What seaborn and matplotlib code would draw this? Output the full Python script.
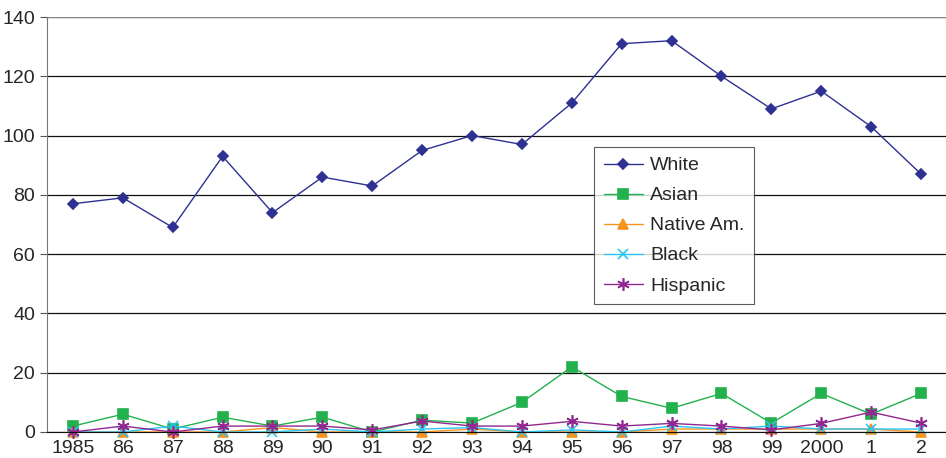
import numpy as np
import pandas as pd
import seaborn as sns
import matplotlib.pyplot as plt

years = ['1985', '86', '87', '88', '89', '90', '91', '92', '93', '94',
         '95', '96', '97', '98', '99', '2000', '1', '2']
white = [77, 79, 69, 93, 74, 86, 83, 95, 100, 97, 111, 131, 132, 120, 109, 115, 103, 87]
asian = [2, 6, 1, 5, 2, 5, 0, 4, 3, 10, 22, 12, 8, 13, 3, 13, 6, 13]
native = [0, 0, 0, 0, 1.5, 0, 0, 0, 1, 0, 0, 0, 1, 1, 1, 1, 1, 0]
black = [0, 0, 2, 0, 0, 1, 0, 1, 1.5, 0, 0.7, 0, 2, 1, 2, 1, 1, 1]
hispanic = [0, 2, 0, 2, 2, 2, 0.7, 3.7, 2, 2, 3.6, 2, 2.9, 2, 0.7, 2.9, 6.7, 3]

sns.set_style('white')
plt.rcParams['font.family'] = ['Liberation Sans', 'DejaVu Sans']

fig = plt.figure(figsize=(9.46, 4.58), dpi=100)
ax = fig.add_axes([47 / 946, 1 - 432 / 458, 899 / 946, 415 / 458])

x = np.arange(len(years))
series = [
    ('White', white, '#2E3192', 'D', 5.5),
    ('Asian', asian, '#22B14C', 's', 7),
    ('Native Am.', native, '#F7941D', '^', 7),
    ('Black', black, '#29C5F6', 'x', 7),
    ('Hispanic', hispanic, '#92278F', (6, 2, 0), 9),
]
for name, vals, col, mk, ms in series:
    df = pd.DataFrame({'year': x, 'value': vals})
    sns.lineplot(data=df, x='year', y='value', ax=ax, color=col, marker=mk,
                 markersize=ms, markeredgecolor=col, markeredgewidth=1.2,
                 linewidth=1, label=name, clip_on=False)

ax.set_xlim(-0.52, 17.39)
ax.set_ylim(0, 140)
ax.set_yticks(range(0, 141, 20))
ax.set_xticks(x)
ax.set_xticklabels(years)
ax.set_xticks(np.arange(-0.5, 18, 1), minor=True)
ax.tick_params(axis='x', which='major', length=0, labelsize=14, pad=6)
ax.tick_params(axis='x', which='minor', length=5, color='#555555', direction='out')
ax.tick_params(axis='y', length=5, color='#555555', direction='out', labelsize=14, left=True)
ax.set_xlabel('')
ax.set_ylabel('')
ax.yaxis.grid(True, color='#111111', linewidth=0.9)
ax.xaxis.grid(False)
for s in ['top', 'right']:
    ax.spines[s].set_visible(False)
ax.spines['left'].set_color('#777777')
ax.spines['bottom'].set_color('#111111')
ax.axhline(140, color='#888888', linewidth=1.5)

leg = ax.legend(loc='upper left', fontsize=14, frameon=True, fancybox=False,
                edgecolor='#333333', borderpad=0.5, labelspacing=0.64,
                handlelength=2, handletextpad=0.4, borderaxespad=0)
leg.set_bbox_to_anchor((594 / 946, 1 - 147 / 458), transform=fig.transFigure)
leg.get_frame().set_linewidth(0.8)

fig.savefig('out.png', dpi=100)
